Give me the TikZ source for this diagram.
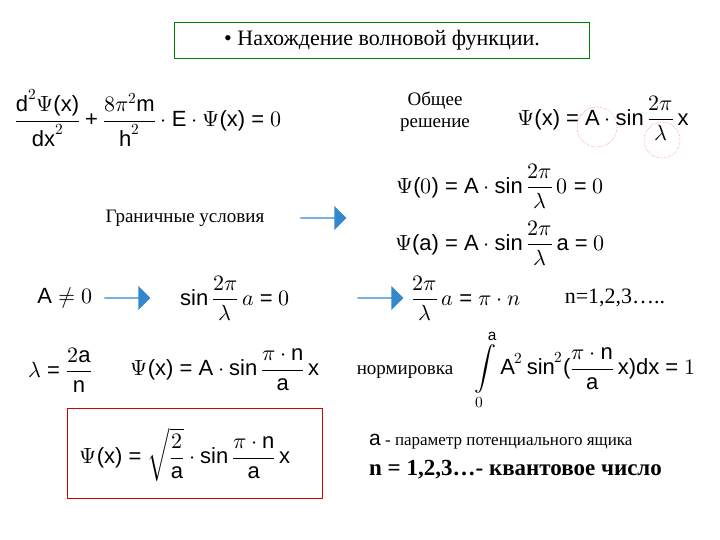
\documentclass[tikz,border=0pt]{standalone}
\usepackage{amsmath}
\usepackage{fontspec}
\usepackage{unicode-math}
\setmainfont{Liberation Serif}
\newfontfamily\arial{Liberation Sans}
\setmathfont{Latin Modern Math}
\setmathfont{Liberation Sans}[range={"0030-"0039,"00B7,"003D,"002B,"0028,"0029}]
\setmathfont{Liberation Serif}[range={"03A8,"03C0,"03BB,"1D44E,"1D45B}]
\usetikzlibrary{shapes.arrows}
\tikzset{
  barrow/.style={single arrow, draw=none, fill=blue!45!cyan!60!gray, minimum height=46pt, minimum width=24pt, single arrow head extend=4pt, inner sep=0pt},
  eq/.style={font=\fontsize{22}{25}\selectfont, inner sep=1pt},
  txt/.style={font=\fontsize{19}{22}\selectfont, inner sep=1pt},
  ring/.style={draw=red!70, densely dotted, circle}
}
\newcommand{\rmm}[1]{\text{\arial #1}}
\newcommand{\msin}{\rmm{sin}\,}
\begin{document}
\begin{tikzpicture}[x=1pt,y=-1pt]
\useasboundingbox (0,0) rectangle (720,540);
\node[draw=green!50!black, minimum width=415pt, minimum height=36pt, txt, font=\fontsize{22}{24}\selectfont] (title) at (382,40) {• Нахождение волновой функции.};
\node[eq] (schr) at (148,118) {$\dfrac{\rmm{d}^2\Psi(\rmm{x})}{\rmm{dx}^2}+\dfrac{8\pi^2\rmm{m}}{\rmm{h}^2}\cdot\rmm{E}\cdot\Psi(\rmm{x})=0$};
\node[txt, align=center] (gen) at (435,112) {Общее\\решение};
\node[eq] (gsol) at (603,118) {$\Psi(\rmm{x})=\rmm{A}\cdot\msin\dfrac{2\pi}{\lambda}\,\rmm{x}$};
\node[ring, minimum size=40pt] (r1) at (597,127) {};
\node[ring, minimum size=36pt] (r2) at (662,140) {};
\node[txt] (bc) at (185,218) {Граничные условия};
\node[barrow] (a1) at (323,218) {};
\node[eq] (p0) at (500,186) {$\Psi(0)=\rmm{A}\cdot\msin\dfrac{2\pi}{\lambda}\,0=0$};
\node[eq] (pa) at (500,243) {$\Psi(\rmm{a})=\rmm{A}\cdot\msin\dfrac{2\pi}{\lambda}\,\rmm{a}=0$};
\node[eq] (an) at (65,298) {$\rmm{A}\neq0$};
\node[barrow] (a2) at (127,298) {};
\node[eq] (sn) at (235,298) {$\msin\dfrac{2\pi}{\lambda}\,a=0$};
\node[barrow] (a3) at (380,298) {};
\node[eq] (kn) at (466,298) {$\dfrac{2\pi}{\lambda}\,a=\pi\cdot n$};
\node[txt, font=\fontsize{22}{24}\selectfont] (nn) at (615,298) {n=1,2,3…..};
\node[eq] (lam) at (60,370) {$\lambda=\dfrac{2\rmm{a}}{\rmm{n}}$};
\node[eq] (psn) at (225,370) {$\Psi(\rmm{x})=\rmm{A}\cdot\msin\dfrac{\pi\cdot\rmm{n}}{\rmm{a}}\,\rmm{x}$};
\node[txt] (norm) at (405,372) {нормировка};
\node[eq] (intg) at (585,370) {$\displaystyle\int\limits_0^{\rmm{a}}\rmm{A}^2\,\rmm{sin}^2(\frac{\pi\cdot\rmm{n}}{\rmm{a}}\,\rmm{x})\rmm{dx}=1$};
\node[draw=red!85!black, minimum width=255pt, minimum height=90pt] (box) at (195,453) {};
\node[eq] (fin) at (185,455) {$\Psi(\rmm{x})=\sqrt{\dfrac{2}{\rmm{a}}}\cdot\msin\dfrac{\pi\cdot\rmm{n}}{\rmm{a}}\,\rmm{x}$};
\node[txt, anchor=west, font=\fontsize{17}{20}\selectfont] (t1) at (368,442) {{\arial\fontsize{21}{22}\selectfont a} - параметр потенциального ящика};
\node[txt, anchor=west, font=\fontsize{23}{26}\selectfont\bfseries] (t2) at (368,470) {n = 1,2,3…- квантовое число};
\end{tikzpicture}
\end{document}
